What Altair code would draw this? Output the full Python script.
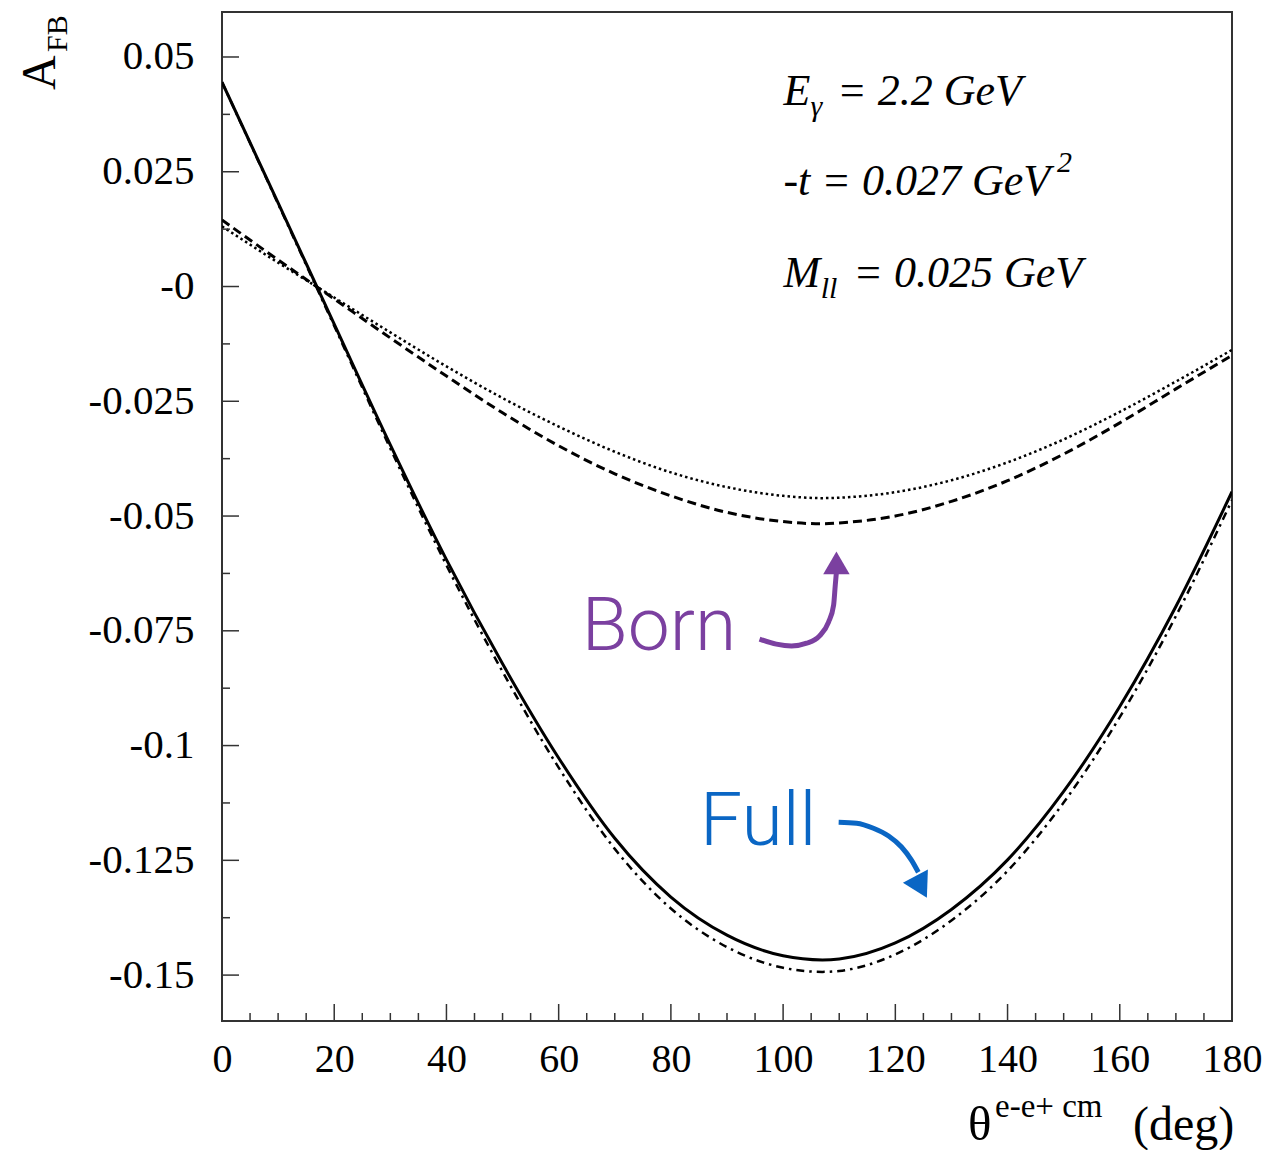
import altair as alt
import pandas as pd

# ---------------- data ----------------
theta = [0, 10, 20, 30, 40, 50, 60, 70, 80, 90, 100, 107, 110, 120, 130, 140, 150, 160, 170, 180]

full_solid = [0.0445, 0.0182, -0.0082, -0.0345, -0.0595, -0.0822, -0.1027, -0.1202, -0.1330, -0.1413,
              -0.1458, -0.1467, -0.1465, -0.1430, -0.1357, -0.1249, -0.1100, -0.0915, -0.0697, -0.0447]

full_dashdot = [0.0445, 0.0180, -0.0086, -0.0353, -0.0607, -0.0839, -0.1048, -0.1225, -0.1355, -0.1439,
                -0.1484, -0.1493, -0.1491, -0.1455, -0.1381, -0.1273, -0.1124, -0.0938, -0.0718, -0.0465]

born_dashed = [0.0145, 0.0058, -0.0027, -0.0112, -0.0195, -0.0275, -0.0347, -0.0408, -0.0456, -0.0492,
               -0.0512, -0.0517, -0.0515, -0.0500, -0.0468, -0.0423, -0.0365, -0.0297, -0.0223, -0.0150]

born_dotted = [0.0131, 0.0052, -0.0024, -0.0100, -0.0174, -0.0243, -0.0305, -0.0360, -0.0405, -0.0437,
               -0.0456, -0.0461, -0.0460, -0.0448, -0.0422, -0.0383, -0.0333, -0.0273, -0.0207, -0.0138]

x_major = [0, 20, 40, 60, 80, 100, 120, 140, 160, 180]
x_minor = [v for v in range(0, 181, 5) if v % 20 != 0]
y_major = [0.05, 0.025, 0.0, -0.025, -0.05, -0.075, -0.1, -0.125, -0.15]
y_minor = [0.0375, 0.0125, -0.0125, -0.0375, -0.0625, -0.0875, -0.1125, -0.1375]

# annotation arrows (data coordinates)
born_arrow_x = [95.8, 98.8, 101.5, 104.2, 106.5, 108.1, 109.0, 109.3, 109.5]
born_arrow_y = [-0.0768, -0.0779, -0.0783, -0.0777, -0.0761, -0.0731, -0.0694, -0.0650, -0.0622]
full_arrow_x = [109.9, 113.1, 116.1, 118.8, 121.1, 122.9, 124.1]
full_arrow_y = [-0.1167, -0.1169, -0.1180, -0.1197, -0.1221, -0.1250, -0.1276]

# ---------------- style ----------------
SERIF = "Liberation Serif"
SANS = "Roboto"
PURPLE = "#7B40A0"
BLUE = "#0A66C4"
W, H = 1010, 1009

x_scale = alt.Scale(domain=[0, 180], nice=False, zero=False)
y_scale = alt.Scale(domain=[-0.16, 0.0598], nice=False, zero=False)

x_axis = alt.Axis(values=x_major, title=None, grid=False, domain=False, ticks=False, tickSize=0,
                  labelFont=SERIF, labelFontSize=40, labelColor="black", labelPadding=18,
                  labelFlush=False, labelExpr="format(datum.value, 'd')")
y_axis = alt.Axis(values=y_major, title=None, grid=False, domain=False, ticks=False, tickSize=0,
                  labelFont=SERIF, labelFontSize=41, labelColor="black", labelPadding=28,
                  labelExpr="datum.value == 0 ? '-0' : replace(format(datum.value, '.3~f'), '\u2212', '-')")


def X(field):
    return alt.X(field, type="quantitative", scale=x_scale, axis=x_axis)


def Y(field):
    return alt.Y(field, type="quantitative", scale=y_scale, axis=y_axis)


def curve(values, width, dash=None):
    df = pd.DataFrame({"theta": theta, "a": values})
    kw = dict(color="black", strokeWidth=width, interpolate="monotone", clip=True)
    if dash:
        kw["strokeDash"] = dash
    return alt.Chart(df).mark_line(**kw).encode(x=X("theta"), y=Y("a"))


lines = [
    curve(born_dotted, 2.5, [2.5, 3]),
    curve(born_dashed, 3, [9, 5]),
    curve(full_dashdot, 2.5, [8, 5, 2.5, 5]),
    curve(full_solid, 3),
]

# ticks (drawn inside the frame)
yt_major = alt.Chart(pd.DataFrame({"v": y_major})).mark_rule(color="#333", strokeWidth=1.5).encode(
    y=Y("v"), x=alt.value(0), x2=alt.value(17))
yt_minor = alt.Chart(pd.DataFrame({"v": y_minor})).mark_rule(color="#333", strokeWidth=1.5).encode(
    y=Y("v"), x=alt.value(0), x2=alt.value(8))
xt_major = alt.Chart(pd.DataFrame({"v": x_major})).mark_rule(color="#333", strokeWidth=1.5).encode(
    x=X("v"), y=alt.value(H), y2=alt.value(H - 17))
xt_minor = alt.Chart(pd.DataFrame({"v": x_minor})).mark_rule(color="#333", strokeWidth=1.5).encode(
    x=X("v"), y=alt.value(H), y2=alt.value(H - 8))


def dtext(x, y, s, size, font=SERIF, color="black", **kw):
    df = pd.DataFrame({"x": [x], "y": [y], "t": [s]})
    return alt.Chart(df).mark_text(align="left", baseline="alphabetic", font=font, fontSize=size,
                                   color=color, **kw).encode(x=X("x"), y=Y("y"), text="t:N")


def ptext(px, py, s, size, **kw):
    df = pd.DataFrame({"t": [s]})
    opts = dict(align="left", baseline="alphabetic", font=SERIF, fontSize=size, color="black")
    opts.update(kw)
    return alt.Chart(df).mark_text(**opts).encode(x=alt.value(px), y=alt.value(py), text="t:N")


annotations = [
    # kinematics box
    dtext(100.06, 0.03954, "E", 44, fontStyle="italic"),
    dtext(104.9, 0.0372, "\u03b3", 30, fontStyle="italic"),
    dtext(109.6, 0.03954, "= 2.2 GeV", 44, fontStyle="italic"),
    dtext(100.06, 0.01993, "-t = 0.027 GeV", 44, fontStyle="italic"),
    dtext(148.8, 0.0249, "2", 30, fontStyle="italic"),
    dtext(100.06, -0.0001, "M", 44, fontStyle="italic"),
    dtext(106.7, -0.0026, "ll", 30, fontStyle="italic"),
    dtext(112.5, -0.0001, "= 0.025 GeV", 44, fontStyle="italic"),
    # Born / Full labels
    dtext(64.1, -0.0792, "Born", 75, font=SANS, color=PURPLE, fontWeight=300),
    dtext(85.2, -0.1217, "Full", 75, font=SANS, color=BLUE, fontWeight=300),
]

born_arrow = alt.Chart(pd.DataFrame({"x": born_arrow_x, "y": born_arrow_y, "o": range(len(born_arrow_x))})) \
    .mark_line(color=PURPLE, strokeWidth=5, interpolate="monotone").encode(x=X("x"), y=Y("y"), order="o:Q")
born_head = alt.Chart(pd.DataFrame({"x": [109.5], "y": [-0.0602]})).mark_point(
    shape="triangle-up", filled=True, color=PURPLE, size=700, opacity=1).encode(x=X("x"), y=Y("y"))
full_arrow = alt.Chart(pd.DataFrame({"x": full_arrow_x, "y": full_arrow_y, "o": range(len(full_arrow_x))})) \
    .mark_line(color=BLUE, strokeWidth=5, interpolate="monotone").encode(x=X("x"), y=Y("y"), order="o:Q")
full_head = alt.Chart(pd.DataFrame({"x": [124.6], "y": [-0.1308]})).mark_point(
    shape="triangle-up", filled=True, color=BLUE, size=800, opacity=1, angle=152).encode(x=X("x"), y=Y("y"))

# axis titles (outside the plot area, pixel offsets from the plot origin)
titles = [
    ptext(-167, 78, "A", 48, angle=270),
    ptext(-155, 40, "FB", 30, angle=270),
    ptext(746, 1128, "\u03b8", 49),
    ptext(773, 1105, "e-e+ cm", 33),
    ptext(911, 1128, "(deg)", 48),
]

chart = alt.layer(
    *lines, yt_major, yt_minor, xt_major, xt_minor,
    born_arrow, born_head, full_arrow, full_head,
    *annotations, *titles
).properties(
    width=W, height=H,
    autosize=alt.AutoSizeParams(type="none"),
    padding={"left": 214, "top": 4, "right": 30, "bottom": 129},
    background="white",
).configure_view(stroke="#333", strokeWidth=2)

chart.save("out.html", embed_options={"renderer": "svg", "actions": False})
